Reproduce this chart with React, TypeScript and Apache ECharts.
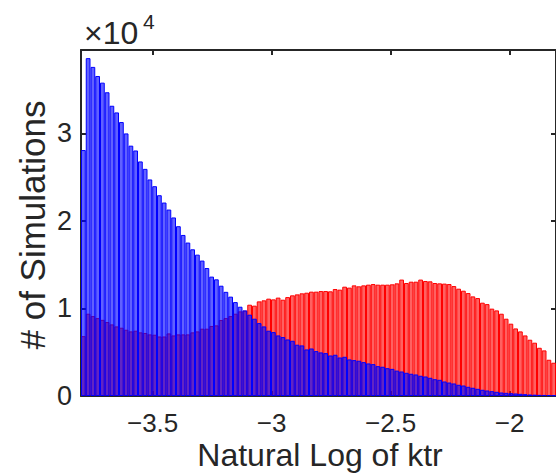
import React, { useEffect, useRef } from "react";
import * as echarts from "echarts";

// Bin indices (100 equal bins across the x range)
const binCount = 100;
const xMin = -3.801;
const xMax = -1.805;
const xTicks = [-3.5, -3, -2.5, -2];
const yTicks = [0, 10000, 20000, 30000];
const yMax = 39530;

// Counts in units of 1e4
const redValues = [
  0.684, 0.94, 0.913, 0.89, 0.87, 0.845, 0.818, 0.795, 0.78, 0.757,
  0.738, 0.746, 0.727, 0.72, 0.704, 0.7, 0.68, 0.68, 0.715, 0.692,
  0.704, 0.704, 0.704, 0.727, 0.738, 0.769, 0.769, 0.8, 0.807, 0.868,
  0.89, 0.913, 0.94, 0.967, 0.975, 1.043, 1.032, 1.081, 1.093, 1.112,
  1.104, 1.124, 1.1, 1.13, 1.15, 1.161, 1.173, 1.18, 1.192, 1.192,
  1.199, 1.199, 1.196, 1.222, 1.215, 1.249, 1.238, 1.264, 1.253, 1.264,
  1.272, 1.279, 1.272, 1.272, 1.272, 1.276, 1.287, 1.33, 1.291, 1.306,
  1.306, 1.33, 1.314, 1.31, 1.291, 1.287, 1.284, 1.279, 1.256, 1.226,
  1.203, 1.176, 1.138, 1.119, 1.066, 1.05, 0.998, 0.978, 0.94, 0.883,
  0.826, 0.772, 0.738, 0.692, 0.643, 0.609, 0.551, 0.521, 0.414, 0.38,
];
const blueValues = [
  2.81, 3.86, 3.76, 3.656, 3.58, 3.47, 3.316, 3.24, 3.13, 3.0,
  2.86, 2.805, 2.68, 2.595, 2.474, 2.397, 2.294, 2.21, 2.13, 2.04,
  1.94, 1.84, 1.753, 1.676, 1.615, 1.547, 1.462, 1.364, 1.333, 1.26,
  1.19, 1.135, 1.073, 1.02, 0.978, 0.929, 0.883, 0.833, 0.795, 0.746,
  0.73, 0.692, 0.673, 0.646, 0.631, 0.586, 0.578, 0.532, 0.543, 0.513,
  0.498, 0.49, 0.463, 0.471, 0.44, 0.448, 0.418, 0.41, 0.403, 0.387,
  0.372, 0.364, 0.341, 0.334, 0.318, 0.31, 0.29, 0.28, 0.265, 0.254,
  0.246, 0.231, 0.223, 0.208, 0.192, 0.185, 0.166, 0.154, 0.143, 0.128,
  0.12, 0.105, 0.094, 0.082, 0.071, 0.063, 0.055, 0.048, 0.04, 0.036,
  0.032, 0.029, 0.025, 0.021, 0.017, 0.015, 0.013, 0.012, 0.01, 0.008,
];

const xLabel = "Natural Log of ktr";
const yLabel = "# of Simulations";

const FONT = "'Liberation Sans', Arial, Helvetica, sans-serif";
const INK = "#262626";

export default function App() {
  const ref = useRef<HTMLDivElement>(null);
  useEffect(() => {
    if (!ref.current) return;
    const chart = echarts.init(ref.current, undefined, { renderer: "svg" });
    const cats = Array.from({ length: binCount }, (_, i) => String(i));
    const axisLine = { show: true, lineStyle: { color: INK, width: 2 } };
    const tick = { show: true, inside: true, length: 5, lineStyle: { color: INK, width: 2 } };
    chart.setOption({
      animation: false,
      backgroundColor: "#ffffff",
      grid: { left: 81, top: 50, right: -4, bottom: 78, containLabel: false },
      xAxis: [
        {
          type: "category",
          data: cats,
          boundaryGap: true,
          show: false,
        },
        {
          type: "value",
          position: "bottom",
          min: xMin,
          max: xMax,
          axisLine,
          axisTick: { ...tick, customValues: xTicks },
          axisLabel: {
            customValues: xTicks,
            formatter: (v: number) => String(v).replace("-", "\u2212"),
            fontSize: 26,
            lineHeight: 20,
            color: INK,
            fontFamily: FONT,
            margin: 17,
          },
          splitLine: { show: false },
        },
        {
          type: "value",
          position: "top",
          min: xMin,
          max: xMax,
          axisLine,
          axisTick: { ...tick, customValues: xTicks },
          axisLabel: { show: false },
          splitLine: { show: false },
        },
      ],
      yAxis: [
        {
          type: "value",
          position: "left",
          min: 0,
          max: yMax,
          axisLine,
          axisTick: { ...tick, customValues: yTicks },
          axisLabel: {
            customValues: yTicks,
            formatter: (v: number) => String(v / 10000),
            fontSize: 27,
            color: INK,
            fontFamily: FONT,
            margin: 9,
          },
          splitLine: { show: false },
        },
        {
          type: "value",
          position: "right",
          min: 0,
          max: yMax,
          axisLine,
          axisTick: { ...tick, customValues: yTicks },
          axisLabel: { show: false },
          splitLine: { show: false },
        },
      ],
      series: [
        {
          type: "bar",
          name: "red",
          xAxisIndex: 0,
          yAxisIndex: 0,
          data: redValues.map((v) => v * 10000),
          barGap: "-100%",
          barCategoryGap: "0%",
          itemStyle: { color: "rgba(255,0,0,0.62)", borderColor: "#ff0000", borderWidth: 1 },
        },
        {
          type: "bar",
          name: "blue",
          xAxisIndex: 0,
          yAxisIndex: 0,
          data: blueValues.map((v) => v * 10000),
          barGap: "-100%",
          barCategoryGap: "0%",
          itemStyle: { color: "rgba(0,0,255,0.62)", borderColor: "#0000ff", borderWidth: 1 },
        },
      ],
      graphic: [
        {
          type: "text",
          x: 84,
          y: 33,
          style: { text: "\u00d710", fontSize: 32, fontFamily: FONT, fill: INK, align: "left", verticalAlign: "middle" },
        },
        {
          type: "text",
          x: 143,
          y: 21,
          style: { text: "4", fontSize: 21, fontFamily: FONT, fill: INK, verticalAlign: "middle", align: "left" },
        },
        {
          type: "text",
          x: 320,
          y: 455,
          style: { text: xLabel, fontSize: 32, fontFamily: FONT, fill: INK, align: "center", verticalAlign: "middle" },
        },
        {
          type: "text",
          x: 32,
          y: 225,
          rotation: Math.PI / 2,
          style: { text: yLabel, fontSize: 35, fontFamily: FONT, fill: INK, align: "center", verticalAlign: "middle" },
        },
      ],
    });
    return () => chart.dispose();
  }, []);
  return (
    <div
      ref={ref}
      style={{ position: "fixed", left: 0, top: 0, width: 556, height: 474, background: "#fff" }}
    />
  );
}
